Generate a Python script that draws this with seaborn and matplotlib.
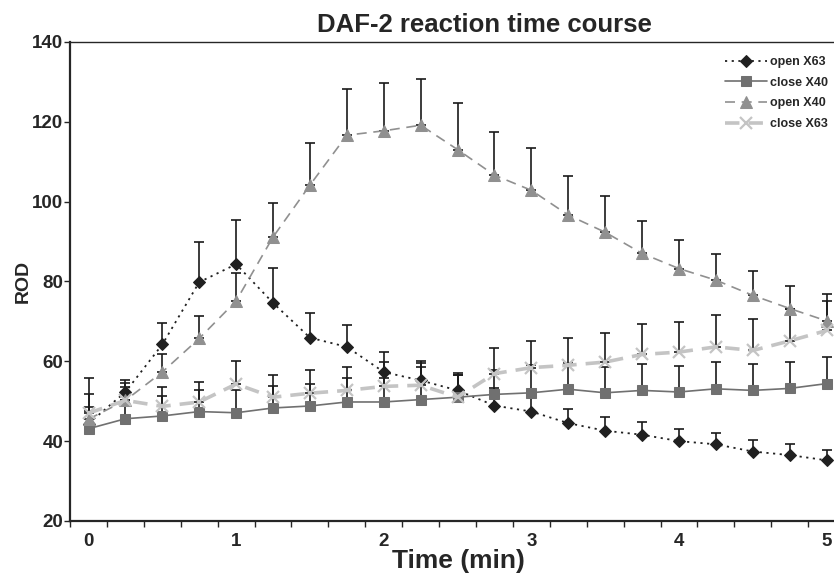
import numpy as np
import pandas as pd
import seaborn as sns
import matplotlib.pyplot as plt
from matplotlib.ticker import FixedLocator

# time points (min)
times = [0, 0.25, 0.5, 0.75, 1.0, 1.25, 1.5, 1.75, 2.0, 2.25, 2.5,
         2.75, 3.0, 3.25, 3.5, 3.75, 4.0, 4.25, 4.5, 4.75, 5.0]

open_x63 = [44.4, 52.3, 64.2, 79.8, 84.3, 74.6, 65.9, 63.6, 57.3, 55.2, 52.7,
            48.9, 47.4, 44.5, 42.6, 41.6, 40.0, 39.2, 37.4, 36.5, 35.2]
open_x63_err = [3.1, 2.9, 5.4, 10.1, 11.0, 8.8, 6.2, 5.5, 5.0, 4.8, 4.3,
                4.3, 4.1, 3.6, 3.4, 3.2, 3.1, 2.9, 2.8, 2.7, 2.6]

close_x40 = [43.1, 45.6, 46.3, 47.4, 47.1, 48.3, 48.8, 49.8, 49.8, 50.4, 51.0,
             51.7, 52.1, 53.0, 52.1, 52.7, 52.3, 53.1, 52.7, 53.2, 54.4]
close_x40_err = [8.6, 6.4, 4.9, 5.3, 5.6, 5.6, 5.6, 6.0, 6.0, 8.1, 5.5,
                 6.2, 6.9, 6.5, 6.5, 6.5, 6.4, 6.7, 6.7, 6.6, 6.7]

open_x40 = [45.5, 50.2, 57.3, 65.7, 75.1, 91.1, 104.1, 116.6, 117.7, 119.1, 113.0,
            106.6, 102.8, 96.6, 92.3, 87.0, 83.2, 80.3, 76.5, 73.2, 70.1]
open_x40_err = [3.0, 3.3, 4.4, 5.6, 7.0, 8.6, 10.6, 11.6, 12.0, 11.7, 11.6,
                10.8, 10.5, 9.8, 9.0, 8.2, 7.1, 6.5, 6.1, 5.7, 6.7]

close_x63 = [47.0, 50.2, 48.7, 49.8, 54.3, 51.0, 52.0, 52.7, 53.7, 54.0, 51.0,
             56.9, 58.4, 59.0, 59.8, 61.7, 62.3, 63.6, 62.7, 65.1, 67.7]
close_x63_err = [8.8, 4.4, 4.8, 4.9, 5.7, 5.6, 5.9, 5.9, 6.1, 5.6, 5.5,
                 6.5, 6.7, 6.9, 7.3, 7.7, 7.5, 8.1, 7.8, 7.9, 7.4]

sns.set_style('ticks')
plt.rcParams['font.family'] = ['Liberation Sans', 'DejaVu Sans']
plt.rcParams['font.weight'] = 'bold'

fig = plt.figure(figsize=(8.34, 5.76), dpi=100)
ax = fig.add_axes([0.084, 0.0955, 0.916, 0.832])

series = [
    ('open X63', open_x63, open_x63_err,
     dict(color='#202020', marker='D', markersize=6, linewidth=1.3, dashes=(1.2, 2.5))),
    ('close X40', close_x40, close_x40_err,
     dict(color='#707070', marker='s', markersize=7, linewidth=1.2)),
    ('open X40', open_x40, open_x40_err,
     dict(color='#909090', marker='^', markersize=8, linewidth=1.2, dashes=(6, 4))),
    ('close X63', close_x63, close_x63_err,
     dict(color='#c4c4c4', marker='x', markersize=9, markeredgewidth=1.6,
          linewidth=2.6, dashes=(4, 2.5))),
]

# upper error bars first, so markers sit on top
for name, vals, errs, kw in series:
    ax.errorbar(times, vals, yerr=[np.zeros(len(errs)), errs], fmt='none',
                ecolor='#1a1a1a', elinewidth=1.2, capsize=3.5, capthick=1.2, zorder=1)

for name, vals, errs, kw in series:
    df = pd.DataFrame({'time': times, 'ROD': vals})
    kw = dict(kw)
    dashes = kw.pop('dashes', None)
    color = kw.pop('color')
    sns.lineplot(data=df, x='time', y='ROD', ax=ax, label=name, color=color,
                 markeredgecolor=color, zorder=3, **kw)
    if dashes is not None:
        ax.lines[-1].set_dashes(dashes)

ax.set_xlim(-0.125, 5.05)
ax.set_ylim(20, 140)
ax.set_yticks([20, 40, 60, 80, 100, 120, 140])
ax.set_xticks([0, 1, 2, 3, 4, 5])
ax.set_xticklabels(['0', '1', '2', '3', '4', '5'])
ax.xaxis.set_minor_locator(FixedLocator([t - 0.125 for t in times] + [5.125]))
ax.tick_params(axis='x', which='major', length=0, pad=9, labelsize=13.5)
ax.tick_params(axis='x', which='minor', length=4, width=1, direction='out')
ax.tick_params(axis='y', length=4, width=1, direction='out', labelsize=13.5, pad=1)

for s in ['left', 'bottom']:
    ax.spines[s].set_linewidth(1.6)
ax.spines['top'].set_visible(True)
ax.spines['top'].set_linewidth(1.0)
ax.spines['right'].set_visible(False)

ax.set_title('DAF-2 reaction time course', fontsize=18.5, fontweight='bold', x=0.542, pad=7)
ax.set_xlabel('Time (min)', fontsize=19, fontweight='bold')
ax.xaxis.set_label_coords(0.509, -0.058)
ax.set_ylabel('ROD', fontsize=14, fontweight='bold')
ax.yaxis.set_label_coords(-0.05, 0.5)

leg = ax.legend(loc='upper right', bbox_to_anchor=(1.004, 0.99), frameon=False,
                fontsize=9, handlelength=3.4, handletextpad=0.2, labelspacing=0.7,
                borderaxespad=0.35)
for t in leg.get_texts():
    t.set_fontweight('bold')

fig.savefig('out.png', dpi=100)
